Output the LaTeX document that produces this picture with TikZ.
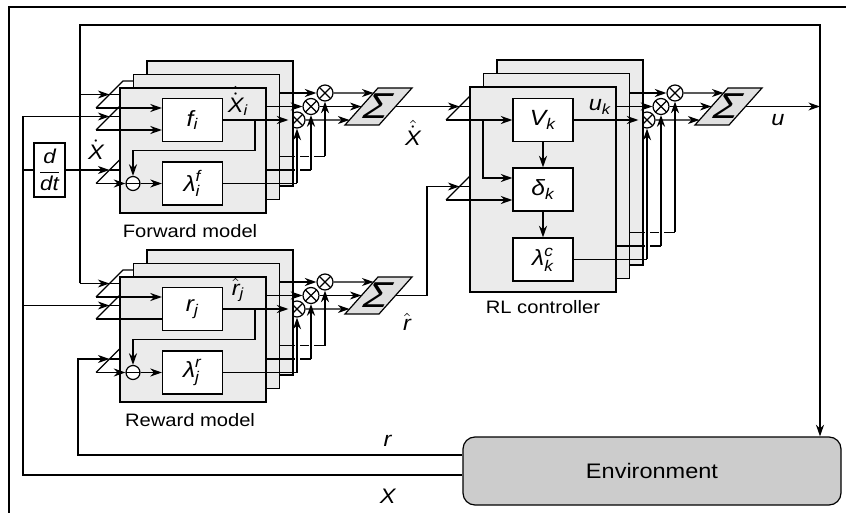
\documentclass[tikz,border=0pt]{standalone}
\usepackage{amsmath}
\usepackage{fontspec}
\setmainfont{Liberation Sans}[FakeStretch=1.12]
\usetikzlibrary{arrows.meta,calc}

\newcommand{\itv}[1]{\textit{#1}}

\tikzset{
  stackbox/.style={draw, fill=black!8},
  cell/.style={draw, fill=white, minimum width=30pt, minimum height=21.5pt, inner sep=0pt, font=\fontsize{11}{12}\selectfont},
  mult/.style={draw, fill=white, circle, minimum size=8pt, inner sep=0pt,
    path picture={\draw (path picture bounding box.north west) -- (path picture bounding box.south east)
                        (path picture bounding box.north east) -- (path picture bounding box.south west);}},
  diff/.style={draw, fill=white, circle, minimum size=7pt, inner sep=0pt,
    path picture={\draw (path picture bounding box.west) -- (path picture bounding box.east);}},
  sumbox/.style={draw, fill=black!12},
  sigma/.style={xslant=0.5, transform shape, font=\fontsize{18}{18}\selectfont},
  hopgap/.style={draw=white, line width=2.5pt},
  sig/.style={font=\fontsize{10.5}{12}\selectfont},
  modelcap/.style={font=\fontsize{9}{11}\selectfont},
  env/.style={draw, fill=black!20, rounded corners=6pt, minimum width=189pt, minimum height=34pt, font=\fontsize{10.5}{12}\selectfont},
}

% one model stack: prefix, y shift, unit, lambda, output label, caption, style of 2nd input
\newcommand{\modelblock}[7]{%
\begin{scope}[shift={(0,#2)}]
  \foreach \s/\yb in {A/108,B/130,C/183.5}{
    \coordinate (#1\s) at (96,\yb);
    \coordinate (#1\s-m) at (109.5,\yb-13.5);
    \draw (#1\s) -- ++(27,-27) -- ++(24,0);
    \draw (#1\s-m) -- ++(24,0);
  }
  \node[mult] (#1c0) at (297,120) {};
  \node[mult] (#1c1) at (311,106.5) {};
  \node[mult] (#1c2) at (325,93) {};
  \foreach \k in {2,1}{
    \draw[stackbox] (120+13.5*\k,88-13.5*\k) rectangle ++(146,125);
    \draw[->] (222+13.5*\k,120-13.5*\k) -- (#1c\k);
    \draw (222+13.5*\k,183.5-13.5*\k) -- (297+14*\k,183.5-13.5*\k);
  }
  \draw[stackbox] (120,88) rectangle ++(146,125);
  \node[cell] (#1u) at (192.5,120) {#3};
  \node[cell] (#1l) at (192.5,183.5) {#4};
  \node[diff] (#1m) at (133,183.5) {};
  \draw[->] (#1A) -- (#1A -| #1u.west);
  \draw[#7] (#1B) -- (#1B -| #1u.west);
  \draw[->] (#1C) -- (#1m);
  \draw[->] (#1m) -- (#1l);
  \draw[->] (#1u) -- (#1c0);
  \coordinate (#1tap) at (255,120);
  \draw[->] (#1tap) -- ++(0,30.5) -| (#1m);
  \draw (#1l) -- (297,183.5);
  \node[sig] (#1out) at (238,101) {#5};
  \node[modelcap] (#1cap) at (190,231) {#6};
  \foreach \k in {0,1,2}{
    \draw[hopgap] (297+14*\k,180.5-13.5*\k) -- (297+14*\k,140-13.5*\k);
    \draw[->] (297+14*\k,183.5-13.5*\k) -- (#1c\k);
  }
  \draw[sumbox] (345,125) -- coordinate[pos=0.135] (#1s0) coordinate[pos=0.5] (#1s1) coordinate[pos=0.865] (#1s2) (378,88)
    -- (412,88) -- coordinate[pos=0.5] (#1so) (379,125) -- cycle;
  \node[sigma] (#1sum) at (378.5,106.5) {Σ};
  \foreach \k in {0,1,2} \draw[->] (#1c\k) -- (#1s\k);
\end{scope}}

\begin{document}
\begin{tikzpicture}[x=0.5pt, y=-0.5pt, line width=0.6pt,
  >={Stealth[length=5.8pt,width=4pt,inset=1.8pt]}]
\useasboundingbox (0,0) rectangle (846,513);
%%%%%%%%%%%%%%%%%%%
\draw (9,513) -- (9,7) -- (846,7);

%%%%%%%%%%%%%%%%%%% forward and reward models
\modelblock{f}{0}{$\itv{f}_{\itv{i}}$}{$\itv{λ}_{\itv{i}}^{\itv{f}}$}{$\hat{\dot{\itv{X}}}_{\itv{i}}$}{Forward model}{->}
\modelblock{r}{189}{$\itv{r}_{\itv{j}}$}{$\itv{λ}_{\itv{j}}^{\itv{r}}$}{$\hat{\itv{r}}_{\itv{j}}$}{Reward model}{-}

%%%%%%%%%%%%%%%%%%% RL controller
\coordinate (cP) at (446,120);
\coordinate (cP-m) at (459.5,106.5);
\coordinate (cQ) at (446,200);
\coordinate (cQ-m) at (459.5,186.5);
\foreach \s in {P,Q}{
  \draw (c\s) -- ++(27,-27) -- ++(24,0);
  \draw (c\s-m) -- ++(24,0);
}
\node[mult] (cc0) at (647,120) {};
\node[mult] (cc1) at (661,106.5) {};
\node[mult] (cc2) at (675,93) {};
\foreach \k in {2,1}{
  \draw[stackbox] (470+13.5*\k,87-13.5*\k) rectangle ++(146,205);
  \draw[->] (573+13.5*\k,120-13.5*\k) -- (cc\k);
  \draw (573+13.5*\k,259.5-13.5*\k) -- (647+14*\k,259.5-13.5*\k);
}
\draw[stackbox] (470,87) rectangle ++(146,205);
\node[cell] (value) at (543,120) {$\itv{V}_{\itv{k}}$};
\node[cell] (tderr) at (543,189.5) {$\itv{δ}_{\itv{k}}$};
\node[cell] (elig) at (543,259.5) {$\itv{λ}_{\itv{k}}^{\itv{c}}$};
\coordinate (cbr) at (483,120);
\draw[->] (cP) -- (value);
\draw[->] (cbr) |- (tderr.west |- 0,178);
\draw[->] (cQ) -- (cQ -| tderr.west);
\draw[->] (value) -- (tderr);
\draw[->] (tderr) -- (elig);
\draw[->] (value) -- (cc0);
\draw (elig) -- (647,259.5);
\node[sig] (uk) at (600,107) {$\itv{u}_{\itv{k}}$};
\node[modelcap] (rlcap) at (543,307) {RL controller};
\foreach \k in {0,1,2}{
  \draw[hopgap] (647+14*\k,256.5-13.5*\k) -- (647+14*\k,140-13.5*\k);
  \draw[->] (647+14*\k,259.5-13.5*\k) -- (cc\k);
}
\draw[sumbox] (695,125) -- coordinate[pos=0.135] (cs0) coordinate[pos=0.5] (cs1) coordinate[pos=0.865] (cs2) (728,88)
  -- (762,88) -- coordinate[pos=0.5] (cso) (729,125) -- cycle;
\node[sigma] (csum) at (728.5,106.5) {Σ};
\foreach \k in {0,1,2} \draw[->] (cc\k) -- (cs\k);

%%%%%%%%%%%%%%%%%%% environment and feedback lines
\node[env] (env) at (652,471) {Environment};
\node[draw, fill=white, minimum width=15.5pt, minimum height=27pt, inner sep=0pt] (ddt) at (49.5,170)
  {$\dfrac{\itv{d}}{\itv{dt}}$};
\coordinate (ucorner) at (820,25);
\coordinate (uleft) at (80,25);
\coordinate (xleft) at (23,475);
\coordinate (rleft) at (78,455);
\coordinate (rhatc) at (427,186.5);
\draw[->] (fso) -- (cP-m);
\draw[->] (rso) -| (rhatc) -- (cQ-m);
\draw[->] (cso) -- (cso -| ucorner);
\draw[->] (uleft |- rA-m) -- (uleft) -| (env.north -| ucorner);
\draw[->] (uleft |- fA-m) -- (fA-m);
\draw[->] (uleft |- rA-m) -- (rA-m);
\draw (env.west |- xleft) -- (xleft) -- (xleft |- fB-m);
\draw[->] (xleft |- fB-m) -- (fB-m);
\draw[->] (xleft |- rB-m) -- (rB-m);
\draw (xleft |- ddt) -- (ddt);
\draw[->] (ddt) -- (fC-m);
\draw[->] (env.west |- rleft) -- (rleft) -- (rleft |- rC-m) -- (rC-m);

%%%%%%%%%%%%%%%%%%% signal labels
\node[sig] (lxdot) at (96,150) {$\dot{\itv{X}}$};
\node[sig] (lxhat) at (413,133) {$\hat{\dot{\itv{X}}}$};
\node[sig] (lrhat) at (407,322) {$\hat{\itv{r}}$};
\node[sig] (lu) at (778,120) {\itv{u}};
\node[sig] (lr) at (388,441) {\itv{r}};
\node[sig] (lx) at (388,496) {\itv{X}};
\end{tikzpicture}
\end{document}
